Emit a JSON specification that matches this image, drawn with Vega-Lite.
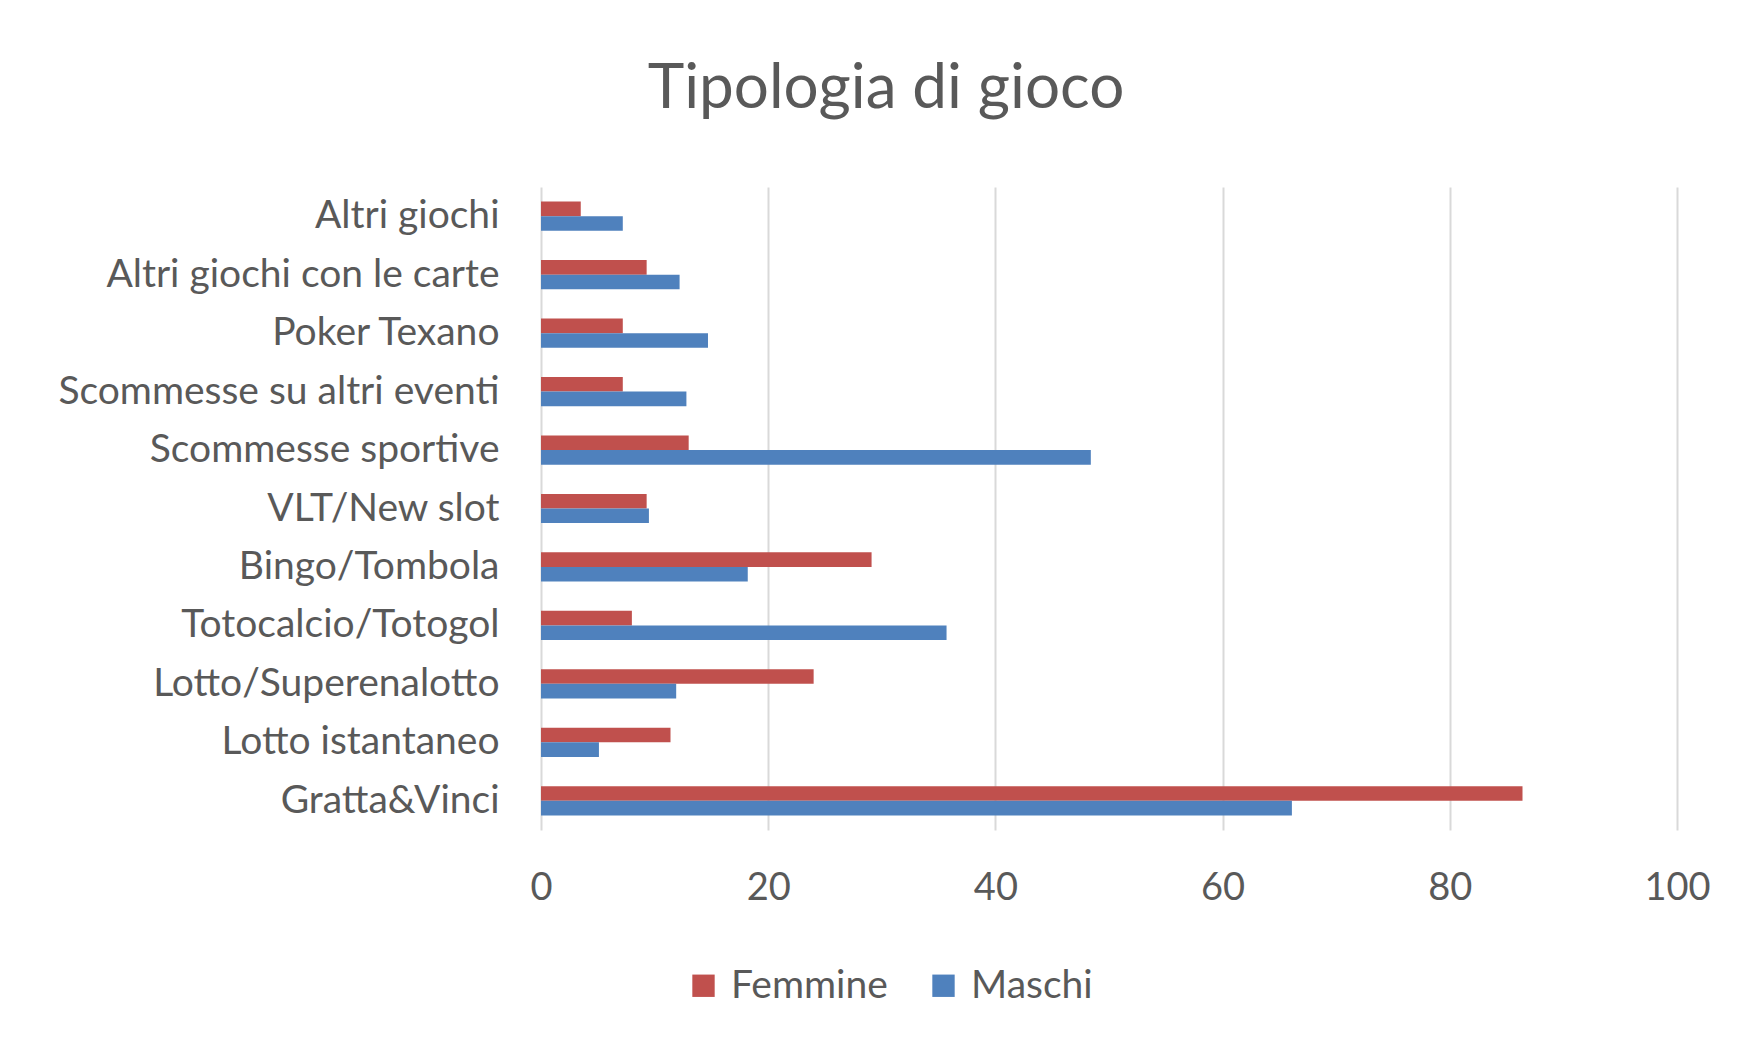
{
  "$schema": "https://vega.github.io/schema/vega-lite/v6.json",
  "width": 1136,
  "height": 643,
  "autosize": {"type": "none"},
  "padding": {"left": 541, "top": 187, "right": 70, "bottom": 220},
  "background": "white",
  "title": {"text": "Tipologia di gioco", "font": "Lato", "fontSize": 62, "fontWeight": "normal", "color": "#595959", "anchor": "middle", "frame": "group", "dx": -223, "offset": 66},
  "config": {"view": {"stroke": null}},
  "data": {"values": [
    {"categoria": "Altri giochi", "sesso": "Femmine", "valore": 3.5},
    {"categoria": "Altri giochi", "sesso": "Maschi", "valore": 7.2},
    {"categoria": "Altri giochi con le carte", "sesso": "Femmine", "valore": 9.3},
    {"categoria": "Altri giochi con le carte", "sesso": "Maschi", "valore": 12.2},
    {"categoria": "Poker Texano", "sesso": "Femmine", "valore": 7.2},
    {"categoria": "Poker Texano", "sesso": "Maschi", "valore": 14.7},
    {"categoria": "Scommesse su altri eventi", "sesso": "Femmine", "valore": 7.2},
    {"categoria": "Scommesse su altri eventi", "sesso": "Maschi", "valore": 12.8},
    {"categoria": "Scommesse sportive", "sesso": "Femmine", "valore": 13.0},
    {"categoria": "Scommesse sportive", "sesso": "Maschi", "valore": 48.4},
    {"categoria": "VLT/New slot", "sesso": "Femmine", "valore": 9.3},
    {"categoria": "VLT/New slot", "sesso": "Maschi", "valore": 9.5},
    {"categoria": "Bingo/Tombola", "sesso": "Femmine", "valore": 29.1},
    {"categoria": "Bingo/Tombola", "sesso": "Maschi", "valore": 18.2},
    {"categoria": "Totocalcio/Totogol", "sesso": "Femmine", "valore": 8.0},
    {"categoria": "Totocalcio/Totogol", "sesso": "Maschi", "valore": 35.7},
    {"categoria": "Lotto/Superenalotto", "sesso": "Femmine", "valore": 24.0},
    {"categoria": "Lotto/Superenalotto", "sesso": "Maschi", "valore": 11.9},
    {"categoria": "Lotto istantaneo", "sesso": "Femmine", "valore": 11.4},
    {"categoria": "Lotto istantaneo", "sesso": "Maschi", "valore": 5.1},
    {"categoria": "Gratta&Vinci", "sesso": "Femmine", "valore": 86.4},
    {"categoria": "Gratta&Vinci", "sesso": "Maschi", "valore": 66.1}
  ]},
  "mark": {"type": "bar"},
  "encoding": {
    "y": {
      "field": "categoria", "type": "nominal",
      "sort": ["Altri giochi", "Altri giochi con le carte", "Poker Texano", "Scommesse su altri eventi", "Scommesse sportive", "VLT/New slot", "Bingo/Tombola", "Totocalcio/Totogol", "Lotto/Superenalotto", "Lotto istantaneo", "Gratta&Vinci"],
      "scale": {"paddingInner": 0.5, "paddingOuter": 0.25},
      "axis": {"title": null, "domain": false, "ticks": false, "labelPadding": 42, "labelFont": "Lato", "labelFontSize": 39, "labelColor": "#595959", "labelLimit": 600}
    },
    "yOffset": {"field": "sesso", "type": "nominal", "sort": ["Femmine", "Maschi"], "scale": {"paddingInner": 0, "paddingOuter": 0}},
    "x": {
      "field": "valore", "type": "quantitative",
      "scale": {"domain": [0, 100], "nice": false},
      "axis": {"title": null, "domain": false, "ticks": false, "values": [0, 20, 40, 60, 80, 100], "grid": true, "gridColor": "#d9d9d9", "gridWidth": 2, "labelPadding": 39, "labelFont": "Lato", "labelFontSize": 38, "labelColor": "#595959", "labelFlush": false}
    },
    "color": {
      "field": "sesso", "type": "nominal",
      "scale": {"domain": ["Femmine", "Maschi"], "range": ["#C0504D", "#4F81BD"]},
      "legend": {"orient": "none", "legendX": 143, "legendY": 779, "direction": "horizontal", "title": null, "symbolType": "square", "symbolSize": 500, "symbolStrokeWidth": 0, "labelFont": "Lato", "labelFontSize": 39, "labelColor": "#595959", "labelOffset": 8, "columnPadding": 36, "padding": 0}
    }
  }
}
